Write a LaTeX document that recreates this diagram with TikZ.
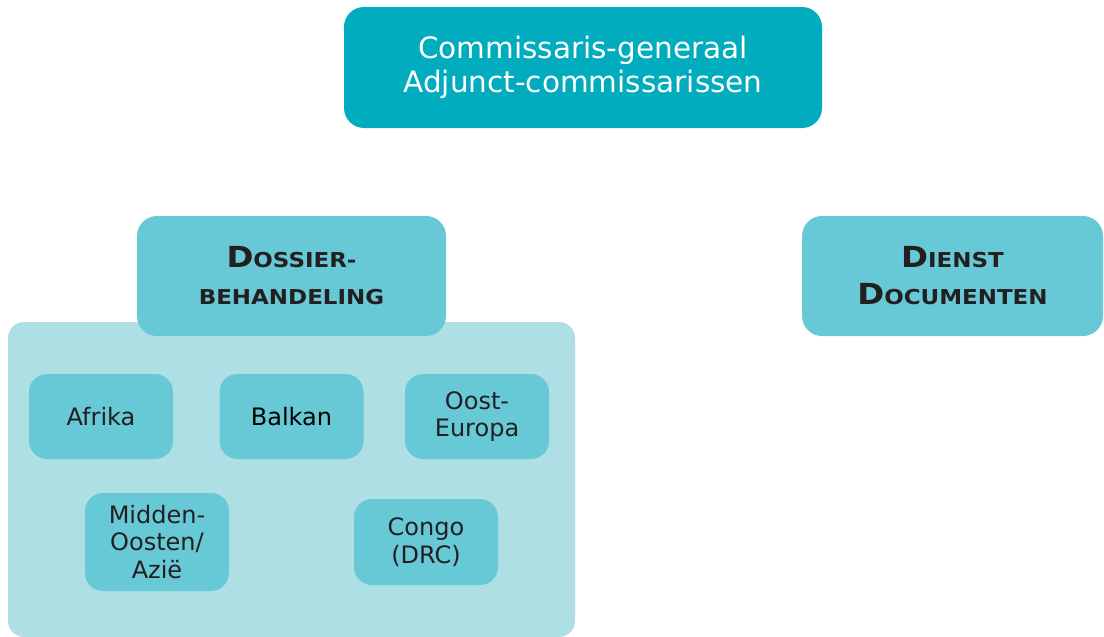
\documentclass[tikz,border=0pt]{standalone}
\usepackage{fontspec}
\setmainfont{DejaVu Sans}
\newfontfamily\widebold[FakeStretch=1.12]{DejaVu Sans Bold}
\definecolor{cgteal}{HTML}{00ACBD}
\definecolor{unitblue}{HTML}{68C9D6}
\definecolor{poolblue}{HTML}{AEDFE5}
\definecolor{inkdark}{HTML}{231F20}
\newcommand{\smallcap}[1]{{\fontsize{20.5}{24}\selectfont #1}}

\begin{document}
\begin{tikzpicture}[x=1pt, y=-1pt,
    every node/.style={align=center, inner sep=0pt},
    topbox/.style={fill=cgteal, text=white, rounded corners=20pt,
                   minimum width=478pt, minimum height=121pt,
                   font=\fontsize{29.5}{34}\selectfont},
    unitbox/.style={fill=unitblue, text=inkdark, rounded corners=20pt,
                    minimum width=305pt, minimum height=120pt,
                    font=\widebold\fontsize{29}{37}\selectfont},
    poolbox/.style={fill=poolblue, rounded corners=16pt,
                    minimum width=567pt, minimum height=315pt},
    deskbox/.style={fill=unitblue, text=inkdark, rounded corners=18pt,
                    minimum width=144pt, minimum height=85pt,
                    font=\fontsize{24}{27.5}\selectfont}]
\useasboundingbox (0,0) rectangle (1104,637);
\clip (0,0) rectangle (1104,637);

% leiding
\node[topbox] (cgvs) at (583,67.5) {Commissaris-generaal\\Adjunct-commissarissen};

% diensten
\node[poolbox] (pool) at (291.5,479.5) {};
\node[unitbox, minimum width=309pt] (dossier) at (291.5,276)
    {D\smallcap{OSSIER-}\\\smallcap{BEHANDELING}};
\node[unitbox, minimum width=301pt] (docs) at (952.5,276)
    {D\smallcap{IENST}\\D\smallcap{OCUMENTEN}};

% geografische secties
\node[deskbox] (afrika) at (101,416.5) {Afrika};
\node[deskbox, text=black] (balkan) at (291.5,416.5) {Balkan};
\node[deskbox] (oosteur) at (477,416.5) {Oost-\\Europa};
\node[deskbox, minimum height=98pt] (midoost) at (157,542) {Midden-\\Oosten/\\Azië};
\node[deskbox, minimum height=86pt] (congo) at (426,542) {Congo\\(DRC)};
\end{tikzpicture}
\end{document}
